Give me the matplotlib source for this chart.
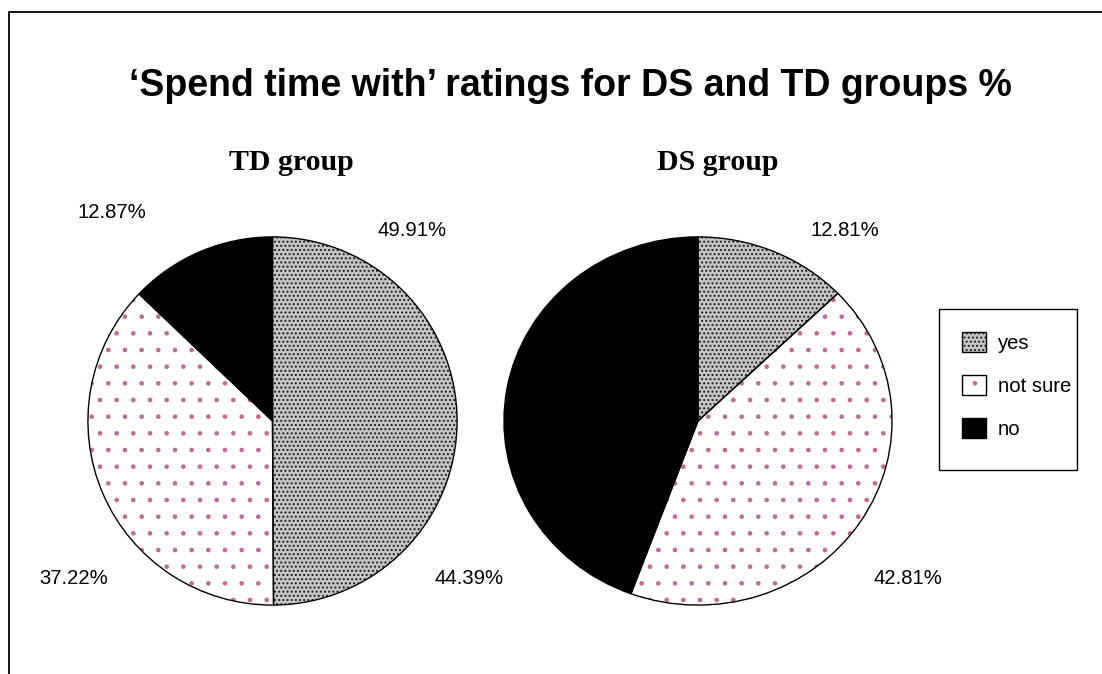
import matplotlib.pyplot as plt
from matplotlib.patches import Patch, Rectangle
from matplotlib.legend_handler import HandlerTuple

# Data
categories = ["yes", "not sure", "no"]
td_values = [49.91, 37.22, 12.87]
ds_values = [12.81, 42.81, 44.39]
title = "\u2018Spend time with\u2019 ratings for DS and TD groups %"
group_titles = ["TD group", "DS group"]

W, H = 1102, 674
PINK = "#c06b9c"
GREY = "#c4c4c4"


def px(x, y):
    """pixel position (top-left origin) -> figure fraction"""
    return x / W, 1 - y / H


def pie_axes(left, top, right, bottom):
    x0, y1 = px(left, top)
    x1, y0 = px(right, bottom)
    return fig.add_axes([x0, y0, x1 - x0, y1 - y0])


def fill_patches():
    # hatch colour follows edgecolor, so outlines are drawn as a separate layer
    with plt.rc_context({"hatch.linewidth": 1.0}):
        yes = dict(facecolor=GREY, edgecolor="#1a1a1a", hatch="....", linewidth=0)
    with plt.rc_context({"hatch.linewidth": 0.7}):
        unsure = dict(facecolor="white", edgecolor=PINK, hatch=".", linewidth=0)
    no = dict(facecolor="black", edgecolor="black", hatch=None, linewidth=0)
    return [yes, unsure, no]


def draw_pie(ax, values):
    wedges, _ = ax.pie(values, startangle=90, counterclock=False, frame=True)
    for w, s in zip(wedges, fill_patches()):
        w.set_facecolor(s["facecolor"])
        w.set_edgecolor(s["edgecolor"])
        w.set_hatch(s["hatch"])
        w.set_linewidth(0)
    ax.pie(values, startangle=90, counterclock=False, frame=True,
           wedgeprops=dict(fill=False, edgecolor="black", linewidth=1.0))
    ax.set_xlim(-1.005, 1.005)
    ax.set_ylim(-1.005, 1.005)
    ax.set_aspect("auto")
    ax.axis("off")


fig = plt.figure(figsize=(W / 100, H / 100), dpi=100)
plt.rcParams["hatch.linewidth"] = 0.9

# outer frame
fig.patches.append(Rectangle(px(9, 700), (W + 20) / W, (700 - 12) / H,
                             transform=fig.transFigure, fill=False,
                             edgecolor="black", linewidth=1.3))

ax_td = pie_axes(87, 236, 458, 606)
draw_pie(ax_td, td_values)
ax_ds = pie_axes(503, 236, 893, 606)
draw_pie(ax_ds, ds_values)

# titles
fig.text(*px(570, 86), title, ha="center", va="center", fontsize=27,
         fontweight="bold", family="Liberation Sans")
fig.text(*px(291, 162), group_titles[0], ha="center", va="center", fontsize=21.5,
         fontweight="bold", family="Liberation Serif")
fig.text(*px(718, 162), group_titles[1], ha="center", va="center", fontsize=21.5,
         fontweight="bold", family="Liberation Serif")

# percentage labels
td_pos = [(412, 231), (74, 579), (112, 212)]
ds_pos = [(845, 231), (908, 579), (469, 579)]
for vals, pos in ((td_values, td_pos), (ds_values, ds_pos)):
    for v, (x, y) in zip(vals, pos):
        fig.text(*px(x, y), f"{v:.2f}%", ha="center", va="center",
                 fontsize=14.6, family="Liberation Sans")

# legend
fig.patches.append(Rectangle(px(939, 470), 138 / W, 161 / H,
                             transform=fig.transFigure, fill=False,
                             edgecolor="black", linewidth=1.0))
fills = fill_patches()
handles = [
    (Patch(**fills[0]), Patch(fill=False, edgecolor="black", linewidth=1.0)),
    (Patch(**fills[1]), Patch(fill=False, edgecolor="black", linewidth=1.0)),
    Patch(facecolor="black", edgecolor="black"),
]
fig.legend(handles, categories, loc="upper left", bbox_to_anchor=px(962, 332),
           frameon=False, handler_map={tuple: HandlerTuple(ndivide=1)},
           prop=dict(family="Liberation Sans", size=14.6),
           handlelength=1.18, handleheight=1.13, labelspacing=1.1,
           handletextpad=0.6, borderaxespad=0, borderpad=0)

fig.savefig("out.png", dpi=100)
